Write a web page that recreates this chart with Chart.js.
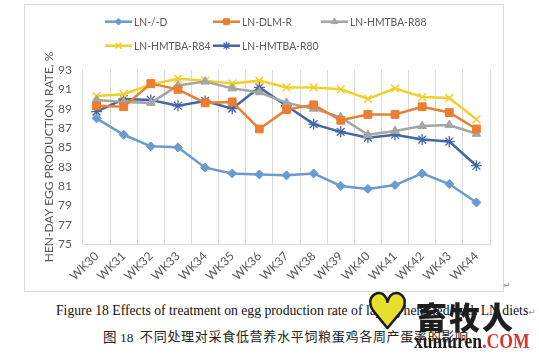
<!DOCTYPE html>
<html>
<head>
<meta charset="utf-8">
<script src="https://cdn.jsdelivr.net/npm/chart.js@4.4.1/dist/chart.umd.min.js"></script>
<style>
  html, body { margin:0; padding:0; background:#fff; }
  body { width:539px; height:355px; position:relative; overflow:hidden; }
  #box { position:absolute; left:24px; top:4px; width:480px; height:288px; border:1px solid #d9d9d9; box-sizing:border-box; }
  #c { position:absolute; left:0; top:0; }
  .ret { position:absolute; color:#9a9a9a; font-family:"DejaVu Sans"; font-size:9px; }
  #cap1 { position:absolute; left:56px; top:303px; font-family:"Liberation Serif"; font-size:13.7px; color:#111; white-space:nowrap; }
  #cap2a { position:absolute; left:103px; top:326px; font-family:"Liberation Serif"; font-size:13.5px; color:#222; white-space:nowrap; }
  #cap2a .cjk { font-family:"Noto Sans CJK SC"; }
  #cap2b { position:absolute; left:140px; top:326px; font-family:"Noto Sans CJK SC"; font-size:13px; color:#222; white-space:nowrap; letter-spacing:0.7px; }
  #heart { position:absolute; left:366px; top:287px; font-family:"DejaVu Sans"; font-size:48px; color:#e6df2e; -webkit-text-stroke:2.5px #1a1a1a; line-height:1; }
  #wm1 { position:absolute; left:416px; top:300px; font-family:"Noto Sans CJK SC"; font-weight:900; font-size:31px; color:#1e1e1e; letter-spacing:2px; line-height:1; }
  #wm2 { position:absolute; left:414px; top:330px; font-family:"Liberation Serif"; font-weight:bold; font-size:22px; color:#1e1e1e; line-height:1; transform:scaleX(0.8); transform-origin:left top; }
  #wm2 span { color:#d8352a; }
</style>
</head>
<body>
<div id="box"><canvas id="c" width="478" height="286"></canvas></div>
<div class="ret" style="left:503px;top:280px;">↵</div>
<div id="cap1">Figure 18 Effects of treatment on egg production rate of laying hens fed with LN diets<span style="color:#9a9a9a;font-family:'DejaVu Sans';font-size:9px;">↵</span></div>
<div id="cap2a"><span class="cjk">图</span> 18</div>
<div id="cap2b">不同处理对采食低营养水平饲粮蛋鸡各周产蛋率的影响</div>
<div id="heart">♥</div>
<div id="wm1">畜牧人</div>
<div id="wm2">xumuren<span>.COM</span></div>
<script>
const weeks = ['WK30','WK31','WK32','WK33','WK34','WK35','WK36','WK37','WK38','WK39','WK40','WK41','WK42','WK43','WK44'];
const lnD   = [88.0, 86.3, 85.1, 85.0, 82.9, 82.3, 82.2, 82.1, 82.3, 81.0, 80.7, 81.1, 82.3, 81.2, 79.3];
const dlmR  = [89.3, 89.2, 91.6, 91.0, 89.6, 89.7, 86.9, 88.9, 89.4, 87.8, 88.4, 88.4, 89.2, 88.6, 86.9];
const r88   = [89.9, 89.7, 89.6, 91.4, 91.8, 91.1, 90.7, 89.6, 89.0, 88.1, 86.3, 86.7, 87.2, 87.3, 86.4];
const r84   = [90.3, 90.5, 91.5, 92.1, 91.9, 91.6, 91.9, 91.2, 91.2, 91.0, 90.0, 91.1, 90.2, 90.1, 87.9];
const r80   = [88.7, 90.0, 89.9, 89.3, 89.8, 89.0, 91.2, 89.3, 87.4, 86.6, 86.0, 86.3, 85.8, 85.6, 83.1];
const seriesNames = ['LN-/-D','LN-DLM-R','LN-HMTBA-R88','LN-HMTBA-R84','LN-HMTBA-R80'];
const yMin = 75, yMax = 93, yStep = 2;
const yTitle = 'HEN-DAY EGG PRODUCTION RATE, %';

const styles = [
  {color:'#6a9bd0', point:'rectRot', r:4.5, bw:1},
  {color:'#ed7d31', point:'rect', r:5.5, bw:1},
  {color:'#a5a5a5', point:'triangle', r:5, bw:1},
  {color:'#f2cf2a', point:'crossRot', r:5.5, bw:1.5},
  {color:'#4266a8', point:'star', r:5.5, bw:1.3}
];
const values = [lnD, dlmR, r88, r84, r80];

const datasets = values.map((v, i) => ({
  label: seriesNames[i],
  data: v,
  borderColor: styles[i].color,
  backgroundColor: styles[i].color,
  borderWidth: 2.5,
  pointStyle: styles[i].point,
  pointRadius: styles[i].r,
  pointBorderWidth: styles[i].bw,
  pointBorderColor: styles[i].color,
  pointBackgroundColor: styles[i].color,
  tension: 0,
  fill: false
}));

const font = 'Lato';
const legendPlugin = {
  id: 'excelLegend',
  afterDraw(chart) {
    const ctx = chart.ctx;
    const cols = [80, 188, 296], rows = [16.7, 40.7];
    ctx.save();
    chart.data.datasets.forEach((ds, i) => {
      const x = cols[i % 3], y = rows[Math.floor(i / 3)];
      ctx.strokeStyle = ds.borderColor;
      ctx.lineWidth = 2.5;
      ctx.beginPath(); ctx.moveTo(x, y); ctx.lineTo(x + 27, y); ctx.stroke();
      ctx.fillStyle = ds.pointBackgroundColor;
      ctx.strokeStyle = ds.pointBorderColor;
      ctx.lineWidth = ds.pointBorderWidth;
      Chart.helpers.drawPoint(ctx, {pointStyle: ds.pointStyle, radius: ds.pointRadius * 0.75, rotation: 0, borderWidth: ds.pointBorderWidth}, x + 13.5, y);
      ctx.save();
      ctx.translate(x + 29, y);
      ctx.scale(0.86, 1);
      ctx.fillStyle = '#595959';
      ctx.font = '12px ' + font;
      ctx.textAlign = 'left';
      ctx.textBaseline = 'middle';
      ctx.fillText(ds.label, 0, 0);
      ctx.restore();
    });
    ctx.restore();
  }
};

new Chart(document.getElementById('c'), {
  type: 'line',
  data: { labels: weeks, datasets },
  plugins: [legendPlugin],
  options: {
    responsive: false,
    animation: false,
    devicePixelRatio: 1,
    layout: { padding: { top: 65, right: 13, bottom: 0, left: 0 } },
    plugins: { legend: { display: false }, tooltip: { enabled: false } },
    scales: {
      x: {
        offset: true,
        grid: { display: true, offset: true, color: '#d9d9d9', lineWidth: 1, drawTicks: false },
        border: { display: true, color: '#d9d9d9' },
        ticks: { autoSkip: false, minRotation: 45, maxRotation: 45, padding: 5, color: '#595959', font: { family: font, size: 12 } },
        afterFit(s) { s.height = 47; }
      },
      y: {
        min: yMin, max: yMax,
        grid: { display: false, drawTicks: false },
        border: { display: false },
        ticks: { stepSize: yStep, padding: 11, color: '#595959', font: { family: font, size: 12 } },
        title: { display: true, text: yTitle, color: '#595959', font: { family: font, size: 12 }, padding: { top: 17, bottom: 0 } },
        afterFit(s) { s.width = 58; }
      }
    }
  }
});
</script>
</body>
</html>
